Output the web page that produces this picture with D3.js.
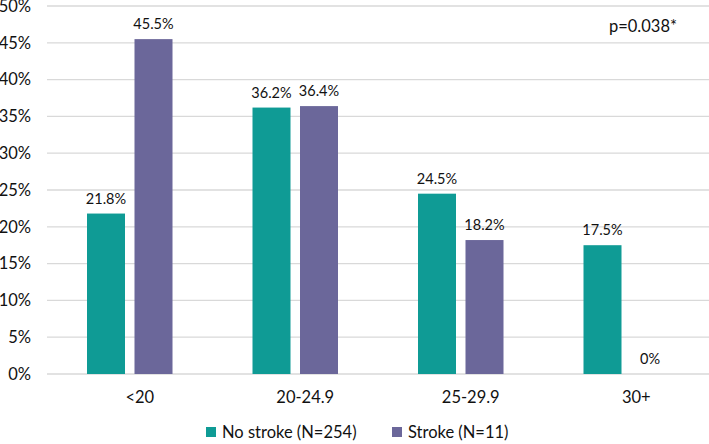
<!DOCTYPE html>
<html>
<head>
<meta charset="utf-8">
<script src="https://cdn.jsdelivr.net/npm/d3@7"></script>
<style>
  body { margin: 0; background: #fff; }
  svg { display: block; font-family: Lato, "Open Sans", sans-serif; }
</style>
</head>
<body>
<svg id="chart" width="709" height="444"></svg>
<script>
const categories = ["<20", "20-24.9", "25-29.9", "30+"];
const seriesNames = ["No stroke (N=254)", "Stroke (N=11)"];
const noStroke = [21.8, 36.2, 24.5, 17.5];
const stroke = [45.5, 36.4, 18.2, 0];
const noStrokeLabels = ["21.8%", "36.2%", "24.5%", "17.5%"];
const strokeLabels = ["45.5%", "36.4%", "18.2%", "0%"];
const yTicks = [0, 5, 10, 15, 20, 25, 30, 35, 40, 45, 50];
const annotation = "p=0.038*";
const colors = ["#0f9b95", "#6b679a"];

const svg = d3.select("#chart");
const x0 = 47, x1 = 709, yTop = 6, yBot = 374;

const x = d3.scaleBand().domain(categories).range([x0, x1]).paddingInner(0).paddingOuter(0);
const xs = d3.scaleBand().domain([0, 1]).range([40, x.bandwidth() - 40]).paddingInner(0.2);
const y = d3.scaleLinear().domain([0, 50]).range([yBot, yTop]);

// gridlines
svg.append("g").selectAll("line").data(yTicks).join("line")
  .attr("x1", x0).attr("x2", x1)
  .attr("y1", d => y(d)).attr("y2", d => y(d))
  .attr("stroke", "#d9d9d9").attr("stroke-width", 1.3);

// y axis labels
svg.append("g").selectAll("text").data(yTicks).join("text")
  .attr("x", 31).attr("y", d => y(d)).attr("dy", "0.35em")
  .attr("text-anchor", "end").attr("font-size", 16.5).attr("fill", "#111")
  .text(d => d + "%");

const data = categories.map((c, i) => ({ c, vals: [noStroke[i], stroke[i]], labels: [noStrokeLabels[i], strokeLabels[i]] }));

const groups = svg.append("g").selectAll("g").data(data).join("g")
  .attr("transform", d => `translate(${x(d.c)},0)`);

groups.selectAll("rect").data(d => d.vals.map((v, j) => ({ v, j }))).join("rect")
  .attr("x", d => xs(d.j)).attr("width", xs.bandwidth())
  .attr("y", d => y(d.v)).attr("height", d => yBot - y(d.v))
  .attr("fill", d => colors[d.j]);

groups.selectAll("text.lbl").data(d => d.vals.map((v, j) => ({ v, j, t: d.labels[j] }))).join("text")
  .attr("class", "lbl")
  .attr("x", d => xs(d.j) + xs.bandwidth() / 2)
  .attr("y", d => y(d.v) - 10)
  .attr("text-anchor", "middle").attr("font-size", 14.5).attr("fill", "#111")
  .text(d => d.t);

// x axis labels
svg.append("g").selectAll("text").data(categories).join("text")
  .attr("x", d => x(d) + x.bandwidth() / 2 + 10).attr("y", 397).attr("dy", "0.35em")
  .attr("text-anchor", "middle").attr("font-size", 16.5).attr("fill", "#111")
  .text(d => d);

// legend
const legendX = [206, 392];
const lg = svg.append("g").selectAll("g").data(seriesNames).join("g")
  .attr("transform", (d, i) => `translate(${legendX[i]},432)`);
lg.append("rect").attr("x", 0).attr("y", -5).attr("width", 10).attr("height", 10)
  .attr("fill", (d, i) => colors[i]);
lg.append("text").attr("x", 16).attr("y", 0).attr("dy", "0.35em")
  .attr("font-size", 16.5).attr("fill", "#111").text(d => d);

// annotation
svg.append("text").attr("x", 643).attr("y", 26).attr("dy", "0.35em")
  .attr("text-anchor", "middle").attr("font-size", 16.5).attr("fill", "#111")
  .text(annotation);
</script>
</body>
</html>
